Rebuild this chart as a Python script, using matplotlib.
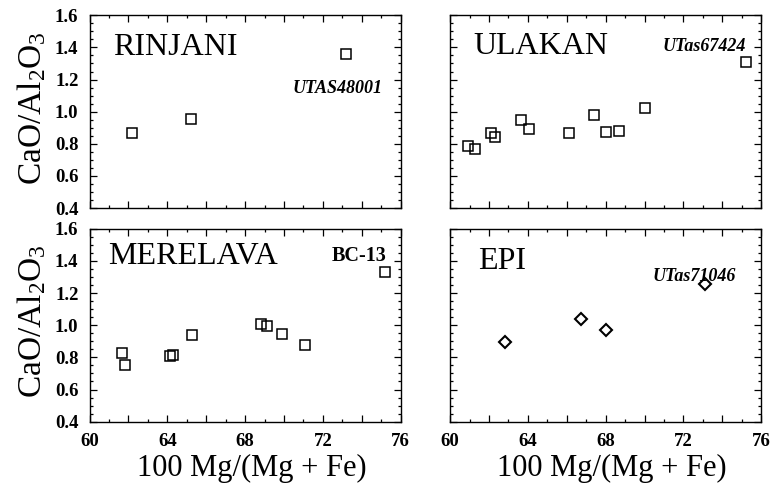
import numpy as np
import matplotlib
matplotlib.use('Agg')
import matplotlib.pyplot as plt
from matplotlib.ticker import MultipleLocator

plt.rcParams['font.family'] = ['Liberation Serif', 'DejaVu Serif']
plt.rcParams['mathtext.fontset'] = 'custom'
plt.rcParams['mathtext.rm'] = 'Liberation Serif'
plt.rcParams['mathtext.it'] = 'Liberation Serif:italic'

# data
rinjani_x = [62.2, 65.2, 73.2]
rinjani_y = [0.87, 0.955, 1.36]

ulakan_x = [60.9, 61.3, 62.1, 62.3, 63.65, 64.05, 66.1, 67.4, 68.0, 68.7, 70.0, 75.2]
ulakan_y = [0.785, 0.77, 0.87, 0.84, 0.95, 0.895, 0.87, 0.98, 0.875, 0.88, 1.02, 1.31]

merelava_x = [61.65, 61.8, 64.15, 64.3, 65.25, 68.8, 69.15, 69.9, 71.1, 75.2]
merelava_y = [0.825, 0.755, 0.81, 0.815, 0.94, 1.01, 0.995, 0.945, 0.875, 1.33]

epi_x = [62.85, 66.75, 68.0, 73.1]
epi_y = [0.895, 1.04, 0.97, 1.255]

fig = plt.figure(figsize=(7.72, 4.92), dpi=100)

lefts = [0.116, 0.583]
bottoms = [0.577, 0.143]
w, h = 0.403, 0.392

panels = [
    # name, x, y, marker, sample, sample pos, sample style, name pos
    ('RINJANI', rinjani_x, rinjani_y, 's', 'UTAS48001', (0.943, 0.62), 'italic', (0.075, 0.835)),
    ('ULAKAN', ulakan_x, ulakan_y, 's', 'UTas67424', (0.952, 0.84), 'italic', (0.075, 0.84)),
    ('MERELAVA', merelava_x, merelava_y, 's', 'BC-13', (0.955, 0.86), 'normal', (0.06, 0.855)),
    ('EPI', epi_x, epi_y, 'D', 'UTas71046', (0.92, 0.75), 'italic', (0.09, 0.83)),
]

for i, (name, xs, ys, mk, samp, spos, sstyle, npos) in enumerate(panels):
    row, col = divmod(i, 2)
    ax = fig.add_axes([lefts[col], bottoms[row], w, h])
    if mk == 's':
        ax.plot(xs, ys, ls='none', marker='s', ms=7.5, mfc='none', mec='black', mew=1.1)
    else:
        ax.plot(xs, ys, ls='none', marker='D', ms=6, mfc='none', mec='black', mew=1.5)
    ax.set_xlim(60, 76)
    ax.set_ylim(0.4, 1.6)
    ax.xaxis.set_major_locator(MultipleLocator(2))
    ax.xaxis.set_minor_locator(MultipleLocator(1))
    ax.yaxis.set_major_locator(MultipleLocator(0.2))
    ax.yaxis.set_minor_locator(MultipleLocator(0.05))
    ax.tick_params(which='both', direction='in', top=True, right=True, width=0.9)
    ax.tick_params(which='major', length=5, pad=8)
    ax.tick_params(which='minor', length=2.5)
    for sp in ax.spines.values():
        sp.set_linewidth(1.0)

    if row == 1:
        ticks = np.arange(60, 77, 2)
        ax.set_xticks(ticks)
        ax.set_xticklabels([str(t) if t % 4 == 0 else '' for t in ticks],
                           fontweight='bold', fontsize=13.5)
        ax.set_xlabel('100 Mg/(Mg + Fe)', fontsize=22, labelpad=3)
        ax.xaxis.label.set_x(0.52)
    else:
        ax.set_xticklabels([])
    if col == 0:
        ax.set_yticks(np.arange(0.4, 1.61, 0.2))
        ax.set_yticklabels(['%.1f' % v for v in np.arange(0.4, 1.61, 0.2)],
                           fontweight='bold', fontsize=13.5)
        ax.set_ylabel('CaO/Al$_2$O$_3$', fontsize=24, labelpad=5)
        ax.yaxis.label.set_y(0.52)
    else:
        ax.set_yticklabels([])

    ax.text(npos[0], npos[1], name, transform=ax.transAxes, fontsize=23,
            ha='left', va='center')
    ax.text(spos[0], spos[1], samp, transform=ax.transAxes,
            fontsize=14.5 if sstyle == 'normal' else 13,
            style=sstyle, fontweight='bold', ha='right', va='center')

fig.savefig('out.png', dpi=100)
